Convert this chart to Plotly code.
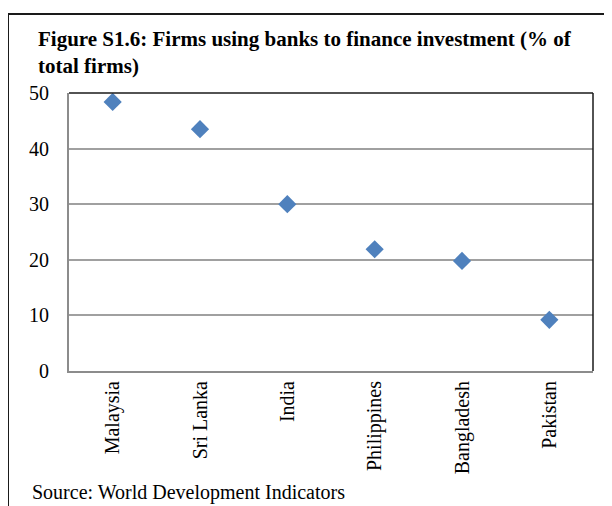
import plotly.graph_objects as go

countries = ["Malaysia", "Sri Lanka", "India", "Philippines", "Bangladesh", "Pakistan"]
values = [48.4, 43.5, 30.0, 21.9, 19.8, 9.2]
y_ticks = [0, 10, 20, 30, 40, 50]

serif = "Liberation Serif"

# plot area in screenshot pixels (page body has an 8px margin)
PL, PR, PT, PB = 69, 593, 93, 371
PW, PH = PR - PL, PB - PT


def px(x):
    return (x - PL) / PW


def py(y):
    return (PB - y) / PH


fig = go.Figure(go.Scatter(
    x=countries, y=values, mode="markers",
    marker=dict(symbol="diamond", size=14, color="#4F81BD"),
    showlegend=False, hoverinfo="x+y"))

fig.update_layout(
    width=604, height=498,
    margin=dict(l=PL - 8, r=604 - (PR - 8), t=PT - 8, b=498 - (PB - 8)),
    paper_bgcolor="white", plot_bgcolor="white",
    font=dict(family=serif, size=20, color="black"),
)
fig.update_xaxes(
    type="category", tickangle=-90, showgrid=False, zeroline=False,
    showline=True, linecolor="#8C8C8C", linewidth=2, ticks="",
    tickfont=dict(family=serif, size=20), range=[-0.5, 5.5])
fig.update_yaxes(
    range=[0, 50], tickvals=y_ticks, showgrid=True, gridcolor="#A0A0A0",
    gridwidth=1.5, zeroline=False, showline=True, linecolor="#8C8C8C",
    linewidth=2, ticks="", ticklabelstandoff=14,
    tickfont=dict(family=serif, size=20))

# top and right plot border (dark)
fig.add_shape(type="line", xref="paper", yref="paper", x0=0, x1=1, y0=1, y1=1,
              line=dict(color="#1a1a1a", width=1.5))
fig.add_shape(type="line", xref="paper", yref="paper", x0=1, x1=1, y0=0, y1=1,
              line=dict(color="#1a1a1a", width=1.5))
# outer frame
fig.add_shape(type="rect", xref="paper", yref="paper",
              x0=px(8), x1=px(620), y0=py(520), y1=py(14),
              line=dict(color="#1a1a1a", width=2), fillcolor="rgba(0,0,0,0)", layer="below")

fig.add_annotation(
    xref="paper", yref="paper", x=px(36), y=py(25),
    xanchor="left", yanchor="top", align="left", showarrow=False,
    text="<b>Figure S1.6: Firms using banks to finance investment (% of<br>total firms)</b>",
    font=dict(family=serif, size=21, color="black"))
fig.add_annotation(
    xref="paper", yref="paper", x=px(30), y=py(506),
    xanchor="left", yanchor="bottom", showarrow=False,
    text="Source: World Development Indicators",
    font=dict(family=serif, size=20, color="black"))

fig.write_html("out.html")
